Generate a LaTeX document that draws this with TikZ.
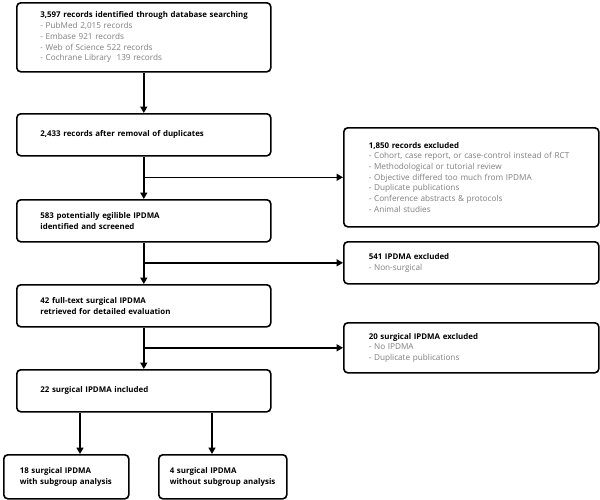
\documentclass[tikz,border=0pt]{standalone}
\usepackage{fontspec}
\setmainfont{Open Sans}
\usetikzlibrary{arrows.meta}
\definecolor{subgray}{HTML}{7E7E7E}
\newcommand{\sub}[1]{\mbox{\fontsize{8.2}{10.7}\selectfont\textcolor{subgray}{#1}}}
\newcommand{\ttl}[1]{\mbox{\textbf{#1}}}
\tikzset{
  box/.style={draw=black, line width=1.6pt, rounded corners=4pt, anchor=north west,
    inner ysep=0pt, align=left, font=\fontsize{7.9}{10.7}\selectfont},
  arr/.style={line width=1.6pt, -{Triangle[length=6.5pt,width=7pt]}}
}
\newcommand{\bx}[7]{% name, x, y, w, h, inset, text
  \node[box, inner xsep=#6pt, text width=#4pt-2*#6pt, minimum height=#5pt] (#1) at (#2,#3) {#7};}
\begin{document}
\begin{tikzpicture}[x=1pt,y=-1pt]
\useasboundingbox (0,0) rectangle (600,499);
\bx{b1}{16}{2}{254}{69}{23.6}{\ttl{3,597 records identified through database searching}\\
\sub{- PubMed 2,015 records}\\ \sub{- Embase 921 records}\\ \sub{- Web of Science 522 records}\\ \sub{- Cochrane Library~ 139 records}}
\bx{b2}{16}{113}{254}{42}{23.6}{\ttl{2,433 records after removal of duplicates}}
\bx{b3}{16}{199}{254}{42}{23.6}{\ttl{583 potentially egilible IPDMA}\\ \ttl{identified and screened}}
\bx{b4}{16}{284}{254}{42}{23.6}{\ttl{42 full-text surgical IPDMA}\\ \ttl{retrieved for detailed evaluation}}
\bx{b5}{16}{369}{254}{42}{23.6}{\ttl{22 surgical IPDMA included}}
\bx{b6}{3}{454}{125}{44}{16}{\ttl{18 surgical IPDMA}\\ \ttl{with subgroup analysis}}
\bx{b7}{158}{454}{128}{44}{11}{\ttl{4 surgical IPDMA}\\ \ttl{without subgroup analysis}}
\bx{e1}{343}{127}{255}{99}{25}{\ttl{1,850 records excluded}\\
\sub{- Cohort, case report, or case-control instead of RCT}\\ \sub{- Methodological or tutorial review}\\
\sub{- Objective differed too much from IPDMA}\\ \sub{- Duplicate publications}\\
\sub{- Conference abstracts \& protocols}\\ \sub{- Animal studies}}
\bx{e2}{343}{241}{255}{42}{25}{\ttl{541 IPDMA excluded}\\ \sub{- Non-surgical}}
\bx{e3}{343}{322}{255}{50}{25}{\ttl{20 surgical IPDMA excluded}\\ \sub{- No IPDMA}\\ \sub{- Duplicate publications}}
\draw[arr] (b1.south) -- (b2.north);
\draw[arr] (b2.south) -- (b3.north);
\draw[arr] (b3.south) -- (b4.north);
\draw[arr] (b4.south) -- (b5.north);
\draw[arr] (b2.south |- e1.west) -- (e1.west);
\draw[arr] (b3.south |- e2.west) -- (e2.west);
\draw[arr] (b4.south |- e3.west) -- (e3.west);
\coordinate (s1) at ([xshift=64pt]b5.south west);
\coordinate (s2) at ([xshift=196pt]b5.south west);
\draw[arr] (s1) -- (s1 |- b6.north);
\draw[arr] (s2) -- (s2 |- b7.north);
\end{tikzpicture}
\end{document}
